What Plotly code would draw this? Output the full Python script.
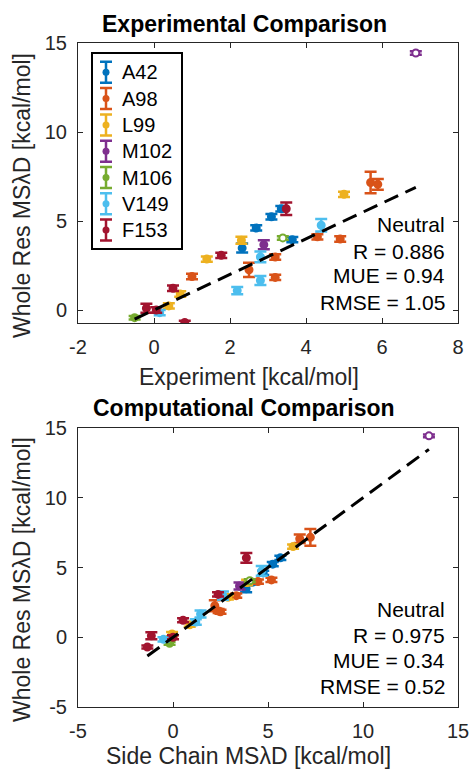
import plotly.graph_objects as go

W, H = 469, 772

series = ["A42", "A98", "L99", "M102", "M106", "V149", "F153"]
colors = ["#0072BD", "#D95319", "#EDB120", "#7E2F8E", "#77AC30", "#4DBEEE", "#A2142F"]

# Experimental values [kcal/mol]
expt = {
    "A42":  [2.32, 2.69, 3.09, 3.35, 3.64],
    "A98":  [5.70, 5.89, 4.30, 4.90, 3.19, 3.19, 2.50, 1.00],
    "L99":  [5.00, 2.30, 1.39, 0.69, 0.39],
    "M102": [6.89, 2.89],
    "M106": [3.39, -0.51],
    "V149": [4.40, 2.80, 2.80, 2.19, 0.15],
    "F153": [3.48, 1.77, 0.50, 0.81, -0.20, 0.06],
}
# Side chain MSlambdaD values
side = {
    "A42":  [3.85, 4.75, 5.25, 5.65, 4.20],
    "A98":  [7.23, 6.67, 5.18, 4.47, 3.33, 2.50, 2.20, 2.40],
    "L99":  [6.32, 3.90, 2.89, 0.88, -0.05],
    "M102": [13.47, 3.50],
    "M106": [4.04, -0.18],
    "V149": [4.67, 2.63, 1.45, 1.20, -0.50],
    "F153": [3.86, 2.37, 0.53, -1.35, -1.14, 0.00],
}
# Whole residue MSlambdaD values
whole = {
    "A42":  [3.48, 4.61, 5.24, 5.69, 3.95],
    "A98":  [7.16, 7.06, 4.11, 3.99, 2.98, 1.83, 2.26, 1.88],
    "L99":  [6.50, 3.92, 2.86, 0.90, 0.23],
    "M102": [14.44, 3.67],
    "M106": [4.05, -0.43],
    "V149": [4.76, 2.98, 1.66, 1.09, -0.15],
    "F153": [5.69, 3.07, 1.22, -0.70, 0.10, 0.00],
}
# Uncertainty of whole residue values
err = {
    "A42":  [0.25, 0.15, 0.15, 0.15, 0.15],
    "A98":  [0.60, 0.30, 0.15, 0.15, 0.15, 0.15, 0.40, 0.15],
    "L99":  [0.15, 0.20, 0.15, 0.15, 0.15],
    "M102": [0.10, 0.25],
    "M106": [0.10, 0.10],
    "V149": [0.35, 0.30, 0.25, 0.20, 0.15],
    "F153": [0.35, 0.15, 0.15, 0.10, 0.25, 0.15],
}
hollow_first = {"M102", "M106"}

stats_top = ["Neutral", "R = 0.886", "MUE = 0.94", "RMSE = 1.05"]
stats_bot = ["Neutral", "R = 0.975", "MUE = 0.34", "RMSE = 0.52"]

top_xticks = [-2, 0, 2, 4, 6, 8]
top_yticks = [0, 5, 10, 15]
bot_ticks = [-5, 0, 5, 10, 15]

FONT = "Liberation Sans, Arial, Helvetica, sans-serif"
AX = "#262626"


def px2x(p):
    return p / W


def px2y(p):
    return 1 - p / H


fig = go.Figure()

for name, col in zip(series, colors):
    n = len(whole[name])
    mcol = [("white" if (name in hollow_first and i == 0) else col) for i in range(n)]
    for xs, xa, ya in [(expt, "x", "y"), (side, "x2", "y2")]:
        fig.add_trace(go.Scatter(
            x=xs[name], y=whole[name], mode="markers", name=name,
            xaxis=xa, yaxis=ya, showlegend=False,
            marker=dict(size=7, color=mcol, line=dict(color=col, width=2)),
            error_y=dict(type="data", array=err[name], color=col, thickness=2.5, width=6),
        ))

# y = x reference lines over the data extent
allx_top = [v for s in series for v in expt[s]]
allx_bot = [v for s in series for v in side[s]]
for xs, xa, ya in [(allx_top, "x", "y"), (allx_bot, "x2", "y2")]:
    lo, hi = min(xs), max(xs)
    fig.add_trace(go.Scatter(x=[lo, hi], y=[lo, hi], mode="lines", xaxis=xa, yaxis=ya,
                             showlegend=False, hoverinfo="skip",
                             line=dict(color="black", width=3, dash="15px,8px")))

# Legend (MATLAB style, with error-bar glyphs), drawn on its own pixel-unit axis
LX0, LX1, LY0, LY1 = 92, 182, 53, 249
leg_sym_x = 106
leg_txt_x = 120
leg_y0, leg_dy = 72.3, 26.3
for i, (name, col) in enumerate(zip(series, colors)):
    cy = -(leg_y0 + i * leg_dy)
    fig.add_trace(go.Scatter(
        x=[leg_sym_x], y=[cy], mode="markers", xaxis="x3", yaxis="y3", showlegend=False,
        hoverinfo="skip", name=name,
        marker=dict(size=7, color=col),
        error_y=dict(type="constant", value=10.5, color=col, thickness=2.5, width=6),
    ))

axcommon = dict(showline=True, mirror="allticks", linecolor=AX, linewidth=1,
                ticks="inside", ticklen=5, tickcolor=AX, tickwidth=1,
                showgrid=False, zeroline=False, ticklabeloverflow="allow",
                ticklabelstandoff=6,
                tickfont=dict(family=FONT, size=20, color=AX))


def tt(vals):
    return [str(v) for v in vals]


fig.update_layout(
    width=W, height=H, margin=dict(l=0, r=0, t=0, b=0, autoexpand=False),
    plot_bgcolor="white", paper_bgcolor="white", showlegend=False,
    xaxis=dict(domain=[px2x(78), px2x(458)], range=[-2, 8], tickvals=top_xticks,
               ticktext=tt(top_xticks), anchor="y", **axcommon),
    yaxis=dict(domain=[px2y(323), px2y(43)], range=[-0.73, 15], tickvals=top_yticks,
               ticktext=tt(top_yticks), anchor="x", **axcommon),
    xaxis2=dict(domain=[px2x(78), px2x(458)], range=[-5, 15], tickvals=bot_ticks,
                ticktext=tt(bot_ticks), anchor="y2", **axcommon),
    yaxis2=dict(domain=[px2y(707), px2y(428)], range=[-5, 15], tickvals=bot_ticks,
                ticktext=tt(bot_ticks), anchor="x2", **axcommon),
    xaxis3=dict(domain=[px2x(LX0), px2x(LX1)], range=[LX0, LX1], visible=False,
                anchor="y3", fixedrange=True),
    yaxis3=dict(domain=[px2y(LY1), px2y(LY0)], range=[-LY1, -LY0], visible=False,
                anchor="x3", fixedrange=True),
)

shapes = [dict(type="rect", xref="paper", yref="paper",
               x0=px2x(LX0), x1=px2x(LX1), y0=px2y(LY1), y1=px2y(LY0),
               line=dict(color="black", width=2), fillcolor="rgba(0,0,0,0)", layer="above")]

ann = []
for i, name in enumerate(series):
    ann.append(dict(text=name, x=px2x(leg_txt_x), y=px2y(leg_y0 + i * leg_dy),
                    xref="paper", yref="paper", showarrow=False,
                    xanchor="left", yanchor="middle",
                    font=dict(family=FONT, size=20, color="black")))

for txt, yy in [("<b>Experimental Comparison</b>", 24), ("<b>Computational Comparison</b>", 408)]:
    ann.append(dict(text=txt, x=px2x(244), y=px2y(yy), xref="paper", yref="paper",
                    showarrow=False, xanchor="center", yanchor="middle",
                    font=dict(family=FONT, size=23, color="black")))

titles = [
    dict(text="Experiment [kcal/mol]", x=px2x(249), y=px2y(377), textangle=0,
         yanchor="middle"),
    dict(text="Side Chain MSλD [kcal/mol]", x=px2x(249), y=px2y(771), textangle=0,
         yanchor="bottom"),
    dict(text="Whole Res MSλD [kcal/mol]", x=px2x(22), y=px2y(196), textangle=-90,
         yanchor="middle"),
    dict(text="Whole Res MSλD [kcal/mol]", x=px2x(22), y=px2y(580), textangle=-90,
         yanchor="middle"),
]
for t in titles:
    t.update(xref="paper", yref="paper", showarrow=False, xanchor="center",
             font=dict(family=FONT, size=23, color=AX))
ann += titles

for lines, ys in [(stats_top, [225, 251, 276, 302]), (stats_bot, [609, 635, 660, 686])]:
    for txt, yy in zip(lines, ys):
        ann.append(dict(text=txt, x=px2x(447), y=px2y(yy), xref="paper", yref="paper",
                        showarrow=False, xanchor="right", yanchor="middle",
                        font=dict(family=FONT, size=21, color="black")))

fig.update_layout(annotations=ann, shapes=shapes)
fig.write_html("out.html", config={"displayModeBar": False},
               post_script="document.body.style.margin='0';document.body.style.overflow='hidden';")
